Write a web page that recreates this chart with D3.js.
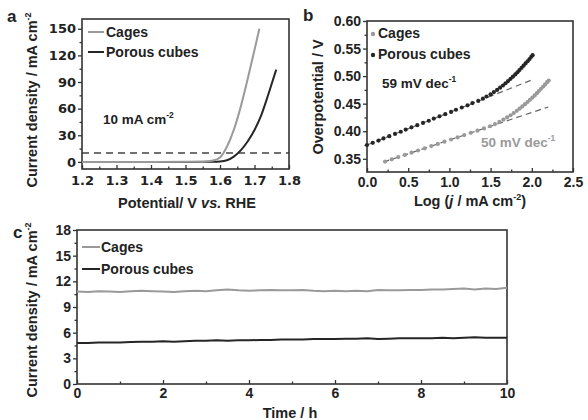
<!DOCTYPE html>
<html>
<head>
<meta charset="utf-8">
<script src="https://cdn.jsdelivr.net/npm/d3@7"></script>
<style>
  body { margin: 0; background: #fff; }
  svg { font-family: "Liberation Sans", Arial, sans-serif; font-weight: bold; }
  .tick text { font-size: 14px; font-weight: bold; fill: #222; }
  .wide .tick text { font-family: "DejaVu Sans", sans-serif; font-size: 13px; }
  .domain { display: none; }
</style>
</head>
<body>
<svg id="chart" width="588" height="420"></svg>
<script>
// ---- panel a: LSV polarization curves (potential V vs RHE, current mA cm-2)
const lsvCagesE = [1.20, 1.30, 1.40, 1.50, 1.55, 1.58, 1.60, 1.62, 1.64, 1.66, 1.68, 1.70, 1.714];
const lsvCagesJ = [0, 0, 0, 0.1, 0.3, 1.5, 5, 17, 36, 62, 93, 126, 150];
const lsvCubesE = [1.20, 1.30, 1.40, 1.50, 1.58, 1.60, 1.62, 1.64, 1.66, 1.68, 1.70, 1.72, 1.74, 1.763];
const lsvCubesJ = [0, 0, 0, 0, 0.1, 0.4, 1.8, 6, 13, 23, 36, 53, 76, 104];
const refCurrent = 10;

// ---- panel b: Tafel plots (log j, overpotential V)
const tafelCagesLogJ = [0.22, 0.30, 0.38, 0.46, 0.54, 0.62, 0.70, 0.78, 0.86, 0.94, 1.02, 1.10, 1.18, 1.26,
  1.34, 1.42, 1.493, 1.553, 1.607, 1.655, 1.70, 1.742, 1.781, 1.818, 1.852, 1.885, 1.918, 1.948, 1.977,
  2.007, 2.035, 2.062, 2.087, 2.112, 2.138, 2.162, 2.186, 2.205];
const tafelCagesEta = [0.345, 0.349, 0.353, 0.357, 0.361, 0.365, 0.369, 0.373, 0.377, 0.381, 0.385, 0.389,
  0.393, 0.397, 0.401, 0.405, 0.409, 0.413, 0.417, 0.421, 0.425, 0.429, 0.433, 0.437, 0.441, 0.445, 0.449,
  0.453, 0.457, 0.461, 0.465, 0.469, 0.473, 0.477, 0.481, 0.485, 0.489, 0.492];
const tafelCubesLogJ = [0.00, 0.07, 0.14, 0.20, 0.27, 0.34, 0.41, 0.47, 0.54, 0.61, 0.68, 0.75, 0.81, 0.88,
  0.95, 1.02, 1.08, 1.15, 1.22, 1.28, 1.35, 1.407, 1.45, 1.50, 1.54, 1.579, 1.615, 1.65, 1.681, 1.712,
  1.742, 1.771, 1.80, 1.826, 1.85, 1.876, 1.90, 1.924, 1.949, 1.972, 1.994, 2.01];
const tafelCubesEta = [0.375, 0.379, 0.383, 0.387, 0.391, 0.395, 0.399, 0.403, 0.407, 0.411, 0.415, 0.419,
  0.423, 0.427, 0.431, 0.435, 0.439, 0.443, 0.447, 0.451, 0.455, 0.459, 0.463, 0.467, 0.471, 0.475, 0.479,
  0.483, 0.487, 0.491, 0.495, 0.499, 0.503, 0.507, 0.511, 0.515, 0.519, 0.523, 0.527, 0.531, 0.535, 0.538];
const fitCagesLogJ = [0.20, 2.20], fitCagesEta = [0.344, 0.444];
const fitCubesLogJ = [0.00, 2.00], fitCubesEta = [0.375, 0.493];

// ---- panel c: chronoamperometry (time h, current mA cm-2)
const timeH = [0, 0.25, 0.5, 0.75, 1, 1.25, 1.5, 1.75, 2, 2.25, 2.5, 2.75, 3, 3.25, 3.5, 3.75, 4, 4.25, 4.5,
  4.75, 5, 5.25, 5.5, 5.75, 6, 6.25, 6.5, 6.75, 7, 7.25, 7.5, 7.75, 8, 8.25, 8.5, 8.75, 9, 9.25, 9.5, 9.75, 10];
const stabCages = [10.80, 10.75, 10.85, 10.80, 10.75, 10.85, 10.90, 10.85, 10.80, 10.75, 10.85, 10.90, 10.85,
  10.95, 11.05, 10.95, 10.90, 10.95, 11.00, 10.95, 10.95, 11.00, 10.90, 10.85, 10.90, 10.85, 10.90, 10.85,
  11.00, 10.95, 10.95, 11.00, 11.00, 11.05, 11.05, 11.10, 11.15, 11.05, 11.15, 11.10, 11.25];
const stabCubes = [4.80, 4.80, 4.85, 4.85, 4.85, 4.90, 4.95, 4.95, 5.00, 4.95, 5.00, 5.05, 5.05, 5.10, 5.05,
  5.10, 5.10, 5.15, 5.15, 5.20, 5.20, 5.20, 5.25, 5.25, 5.25, 5.30, 5.30, 5.35, 5.25, 5.30, 5.35, 5.35, 5.35,
  5.35, 5.40, 5.35, 5.40, 5.45, 5.40, 5.40, 5.40];

const grey = "#9a9a9a", dark = "#262626";
const svg = d3.select("#chart");

// draw a framed panel with ticks; returns the scales
function panel(opt) {
  const x = d3.scaleLinear().domain(opt.xDom).range(opt.xRange);
  const y = d3.scaleLinear().domain(opt.yDom).range(opt.yRange);
  const g = svg.append("g").classed("wide", !!opt.wide);
  const [x0, x1] = opt.xRange, [y0, y1] = opt.yRange;

  // minor ticks
  g.append("g").attr("transform", `translate(0,${y0})`)
    .call(d3.axisBottom(x).tickValues(opt.xMinor).tickSize(-2.5).tickFormat(""));
  g.append("g").attr("transform", `translate(${x0},0)`)
    .call(d3.axisLeft(y).tickValues(opt.yMinor).tickSize(2.5).tickFormat(""));
  // major ticks
  g.append("g").attr("transform", `translate(0,${y0})`)
    .call(d3.axisBottom(x).tickValues(opt.xTicks).tickSize(-4).tickPadding(opt.xPad).tickFormat(opt.xFmt));
  g.append("g").attr("transform", `translate(${x0},0)`)
    .call(d3.axisLeft(y).tickValues(opt.yTicks).tickSize(4).tickPadding(2).tickFormat(opt.yFmt));
  g.selectAll(".tick line").attr("stroke", "#333").attr("stroke-width", 1.3);

  g.append("rect")
    .attr("x", x0).attr("y", y1)
    .attr("width", x1 - x0).attr("height", y0 - y1)
    .attr("fill", "none").attr("stroke", "#333").attr("stroke-width", 1.6);
  return { x, y, g };
}

function rotTitle(parts, cx, cy) {
  const t = svg.append("text")
    .attr("transform", `translate(${cx},${cy}) rotate(-90)`)
    .attr("text-anchor", "middle").attr("font-size", 14.5).attr("fill", "#222");
  addParts(t, parts);
}

// parts: list of [text, "sup"|"it"|undefined]
function addParts(t, parts) {
  let raised = false;
  parts.forEach(([s, kind]) => {
    const ts = t.append("tspan").text(s);
    if (kind === "sup") {
      ts.attr("font-size", "0.62em").attr("dy", -6);
      raised = true;
    } else {
      if (raised) { ts.attr("dy", 6); raised = false; }
      if (kind === "it") ts.attr("font-style", "italic");
    }
  });
}

function label(parts, x, y, size, color, anchor) {
  const t = svg.append("text").attr("x", x).attr("y", y)
    .attr("font-size", size).attr("fill", color || "#222")
    .attr("text-anchor", anchor || "start");
  addParts(t, parts);
  return t;
}

// ================= panel a =================
{
  const { x, y, g } = panel({
    xDom: [1.2, 1.8], xRange: [82, 289], yDom: [-8, 161], yRange: [169, 19], wide: true,
    xTicks: d3.range(1.2, 1.81, 0.1), xMinor: d3.range(1.25, 1.8, 0.1), xPad: 7,
    yTicks: d3.range(0, 151, 30), yMinor: d3.range(15, 160, 30),
    xFmt: d3.format(".1f"), yFmt: d3.format("d")
  });
  const line = d3.line().x(d => x(d[0])).y(d => y(d[1])).curve(d3.curveMonotoneX);
  g.insert("line", "rect")
    .attr("x1", x(1.2)).attr("x2", x(1.8)).attr("y1", y(refCurrent)).attr("y2", y(refCurrent))
    .attr("stroke", "#444").attr("stroke-width", 1.6).attr("stroke-dasharray", "7,5");
  g.append("path").datum(d3.zip(lsvCubesE, lsvCubesJ)).attr("d", line)
    .attr("fill", "none").attr("stroke", dark).attr("stroke-width", 2);
  g.append("path").datum(d3.zip(lsvCagesE, lsvCagesJ)).attr("d", line)
    .attr("fill", "none").attr("stroke", grey).attr("stroke-width", 2);

  [["Cages", grey, 32], ["Porous cubes", dark, 52]].forEach(([n, c, ly]) => {
    svg.append("line").attr("x1", 88).attr("x2", 104).attr("y1", ly).attr("y2", ly)
      .attr("stroke", c).attr("stroke-width", 2);
    label([[n]], 106, ly + 5, 14, "#222");
  });
  label([["10 mA cm"], ["-2", "sup"]], 103, 124, 13.5, "#222");
  label([["a"]], 7, 22, 17, "#222");
  rotTitle([["Current density / mA cm"], ["-2", "sup"]], 37, 100);
  label([["Potential/ V "], ["vs.", "it"], [" RHE"]], 187, 208, 14.5, "#222", "middle");
}

// ================= panel b =================
{
  const { x, y, g } = panel({
    xDom: [0, 2.5], xRange: [367, 573], yDom: [0.326, 0.60], yRange: [172, 21],
    xTicks: d3.range(0, 2.51, 0.5), xMinor: d3.range(0.25, 2.5, 0.5), xPad: 5,
    yTicks: d3.range(0.35, 0.601, 0.05), yMinor: d3.range(0.375, 0.6, 0.05),
    xFmt: d3.format(".1f"), yFmt: d3.format(".2f")
  });
  const line = d3.line().x(d => x(d[0])).y(d => y(d[1]));
  [[fitCubesLogJ, fitCubesEta], [fitCagesLogJ, fitCagesEta]].forEach(([xs, ys]) => {
    g.append("path").datum(d3.zip(xs, ys)).attr("d", line)
      .attr("fill", "none").attr("stroke", "#666").attr("stroke-width", 1.2)
      .attr("stroke-dasharray", "6,4");
  });
  [[tafelCagesLogJ, tafelCagesEta, grey], [tafelCubesLogJ, tafelCubesEta, dark]].forEach(([xs, ys, c]) => {
    g.append("g").selectAll("circle").data(d3.zip(xs, ys)).join("circle")
      .attr("cx", d => x(d[0])).attr("cy", d => y(d[1])).attr("r", 2.1)
      .attr("fill", c);
  });

  [["Cages", grey, 33], ["Porous cubes", dark, 54]].forEach(([n, c, ly]) => {
    svg.append("circle").attr("cx", 373).attr("cy", ly + 1).attr("r", 2.2).attr("fill", c);
    label([[n]], 378, ly + 5, 14, "#222");
  });
  label([["59 mV dec"], ["-1", "sup"]], 382, 88, 13.5, "#222");
  label([["50 mV dec"], ["-1", "sup"]], 481, 147, 13.5, grey);
  label([["b"]], 303, 21, 17, "#222");
  rotTitle([["Overpotential / V"]], 323, 97);
  label([["Log ("], ["j", "it"], [" / mA cm"], ["-2", "sup"], [")"]], 470, 206, 14.5, "#222", "middle");
}

// ================= panel c =================
{
  const { x, y, g } = panel({
    xDom: [0, 10], xRange: [77, 507], yDom: [0, 18], yRange: [384, 230],
    xTicks: d3.range(0, 10.1, 2), xMinor: d3.range(1, 10, 2), xPad: 4,
    yTicks: d3.range(0, 18.1, 3), yMinor: d3.range(1.5, 18, 3),
    xFmt: d3.format("d"), yFmt: d3.format("d")
  });
  const line = d3.line().x(d => x(d[0])).y(d => y(d[1]));
  g.append("path").datum(d3.zip(timeH, stabCages)).attr("d", line)
    .attr("fill", "none").attr("stroke", grey).attr("stroke-width", 2);
  g.append("path").datum(d3.zip(timeH, stabCubes)).attr("d", line)
    .attr("fill", "none").attr("stroke", dark).attr("stroke-width", 2);

  [["Cages", grey, 247], ["Porous cubes", dark, 269]].forEach(([n, c, ly]) => {
    svg.append("line").attr("x1", 82).attr("x2", 100).attr("y1", ly).attr("y2", ly)
      .attr("stroke", c).attr("stroke-width", 2);
    label([[n]], 101, ly + 5, 14, "#222");
  });
  label([["c"]], 13, 238, 17, "#222");
  rotTitle([["Current density / mA cm"], ["-2", "sup"]], 37, 310);
  label([["Time / h"]], 290, 418, 14.5, "#222", "middle");
}
</script>
</body>
</html>
